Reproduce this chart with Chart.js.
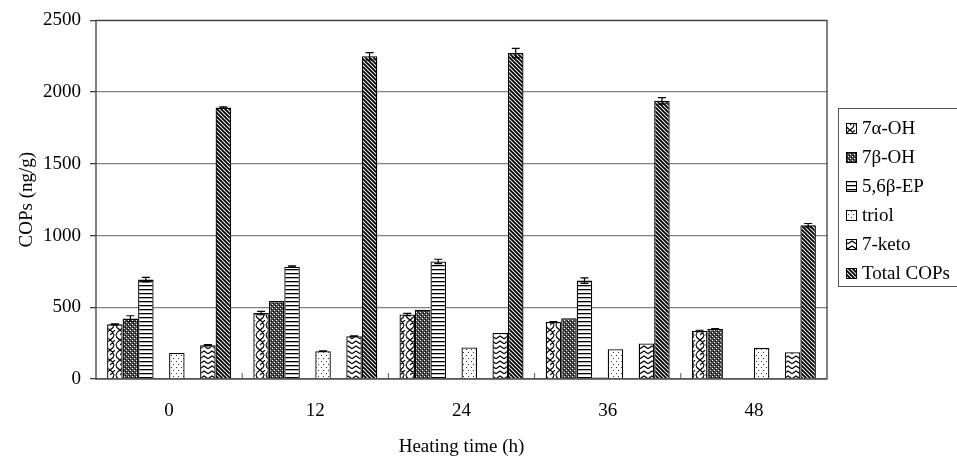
<!DOCTYPE html>
<html>
<head>
<meta charset="utf-8">
<script src="https://cdn.jsdelivr.net/npm/chart.js@4"></script>
<style>
  body { margin: 0; background: #fff; }
  canvas { display: block; }
</style>
</head>
<body>
<canvas id="copsChart" width="957" height="458"></canvas>
<script>
const hours = ['0', '12', '24', '36', '48'];

const alphaOH = [381, 460, 450, 397, 335];
const betaOH = [421, 543, 483, 423, 349];
const ep56b = [693, 783, 820, 686, 0];
const blankA = [0, 0, 0, 10, 0];
const triol = [182, 194, 220, 208, 217];
const blankB = [0, 0, 0, 0, 0];
const keto7 = [236, 298, 321, 247, 187];
const totalCOPs = [1892, 2250, 2273, 1939, 1072];

const alphaErr = [3, 12, 8, 4, 5];
const betaErr = [20, 0, 0, 0, 3];
const epErr = [16, 5, 15, 19, 0];
const triolErr = [0, 2, 0, 0, 0];
const ketoErr = [3, 3, 0, 0, 0];
const totalErr = [5, 26, 32, 22, 12];

const fontName = '"Liberation Serif", "Times New Roman", serif';

function makePattern(w, h, draw) {
    const c = document.createElement('canvas');
    c.width = w;
    c.height = h;
    const g = c.getContext('2d');
    g.fillStyle = '#fff';
    g.fillRect(0, 0, w, h);
    g.strokeStyle = '#000';
    g.fillStyle = '#000';
    draw(g);
    return g.createPattern(c, 'repeat');
}

const ctx = document.getElementById('copsChart').getContext('2d');

// 7a-OH: interlocking curves
const patAlpha = makePattern(10, 10, g => {
    g.lineWidth = 1.1;
    g.beginPath();
    g.moveTo(0, 0); g.quadraticCurveTo(8, 5, 0, 10);
    g.moveTo(10, 0); g.quadraticCurveTo(2, 5, 10, 10);
    g.moveTo(0, 5); g.lineTo(5, 0);
    g.stroke();
});
// 7b-OH: dense dark checker
const patBeta = makePattern(4, 4, g => {
    g.fillStyle = '#4a4a4a';
    g.fillRect(0, 0, 4, 4);
    g.fillStyle = '#fff';
    g.fillRect(0, 0, 1, 1);
    g.fillRect(2, 2, 1, 1);
    g.fillStyle = '#000';
    g.fillRect(1, 3, 1, 1);
    g.fillRect(3, 1, 1, 1);
});
// 5,6b-EP: horizontal lines
const patEP = makePattern(4, 4, g => {
    g.fillRect(0, 1, 4, 1.3);
});
// triol: sparse dots
const patTriol = makePattern(5, 6, g => {
    g.fillStyle = '#333';
    g.fillRect(1, 1, 1, 1);
    g.fillRect(3, 4, 1, 1);
});
// 7-keto: horizontal zigzag
const patKeto = makePattern(8, 5, g => {
    g.lineWidth = 1.2;
    g.beginPath();
    g.moveTo(0, 3.8); g.lineTo(4, 1); g.lineTo(8, 3.8);
    g.stroke();
});
// Total COPs: dense diagonal stripes
const patTotal = makePattern(4, 4, g => {
    g.lineWidth = 1.9;
    g.beginPath();
    g.moveTo(-1, -1); g.lineTo(5, 5);
    g.moveTo(-1, 3); g.lineTo(1, 5);
    g.moveTo(3, -1); g.lineTo(5, 1);
    g.stroke();
});

function barSet(label, values, fill, errs) {
    return {
        label: label,
        data: values,
        errors: errs,
        backgroundColor: fill,
        borderColor: '#000',
        borderWidth: 1.3,
        borderSkipped: 'start'
    };
}

const datasets = [
    barSet('7α-OH', alphaOH, patAlpha, alphaErr),
    barSet('7β-OH', betaOH, patBeta, betaErr),
    barSet('5,6β-EP', ep56b, patEP, epErr),
    barSet('', blankA, '#111', null),
    barSet('triol', triol, patTriol, triolErr),
    barSet('', blankB, '#111', null),
    barSet('7-keto', keto7, patKeto, ketoErr),
    barSet('Total COPs', totalCOPs, patTotal, totalErr)
];

const extrasPlugin = {
    id: 'extras',
    afterDatasetsDraw(chart) {
        const c = chart.ctx;
        const area = chart.chartArea;
        const y = chart.scales.y;
        const x = chart.scales.x;

        // error bars
        c.save();
        c.strokeStyle = '#000';
        c.lineWidth = 1.2;
        chart.data.datasets.forEach((ds, di) => {
            if (!ds.errors) return;
            const meta = chart.getDatasetMeta(di);
            ds.data.forEach((v, i) => {
                const e = ds.errors[i];
                if (!e || !v) return;
                const px = meta.data[i].x;
                const top = y.getPixelForValue(v + e);
                const bot = y.getPixelForValue(v - e);
                c.beginPath();
                c.moveTo(px, top); c.lineTo(px, bot);
                c.moveTo(px - 4, top); c.lineTo(px + 4, top);
                c.moveTo(px - 4, bot); c.lineTo(px + 4, bot);
                c.stroke();
            });
        });

        // inward x ticks between categories
        c.strokeStyle = '#555';
        c.lineWidth = 1;
        for (let i = 1; i < hours.length; i++) {
            const bx = (x.getPixelForValue(i - 1) + x.getPixelForValue(i)) / 2;
            c.beginPath();
            c.moveTo(bx, area.bottom);
            c.lineTo(bx, area.bottom - 6);
            c.stroke();
        }

        // plot frame
        c.strokeStyle = '#404040';
        c.lineWidth = 1.3;
        c.strokeRect(area.left, area.top, area.right - area.left, area.bottom - area.top);
        c.restore();
    },
    afterDraw(chart) {
        const c = chart.ctx;
        const items = chart.data.datasets.filter(ds => ds.label !== '');
        const boxLeft = 838, boxTop = 108, boxBottom = 286;
        c.save();
        c.strokeStyle = '#555';
        c.lineWidth = 1;
        c.strokeRect(boxLeft + 0.5, boxTop + 0.5, 140, boxBottom - boxTop);
        c.font = '19px ' + fontName;
        c.textBaseline = 'middle';
        c.textAlign = 'left';
        items.forEach((ds, i) => {
            const cy = 128 + i * 29;
            c.fillStyle = ds.backgroundColor;
            c.fillRect(846, cy - 5, 10, 10);
            c.strokeStyle = '#000';
            c.strokeRect(846.5, cy - 4.5, 10, 10);
            c.fillStyle = '#000';
            c.fillText(ds.label, 862, cy + 1);
        });
        c.restore();
    }
};

new Chart(ctx, {
    type: 'bar',
    data: {
        labels: hours,
        datasets: datasets
    },
    options: {
        responsive: false,
        animation: false,
        layout: {
            padding: { left: 5, right: 130, top: 12, bottom: 0 }
        },
        datasets: {
            bar: {
                categoryPercentage: 0.848,
                barPercentage: 1
            }
        },
        plugins: {
            legend: { display: false },
            tooltip: { enabled: false }
        },
        scales: {
            x: {
                grid: { display: false, drawTicks: false },
                border: { display: false },
                ticks: {
                    color: '#000',
                    padding: 21,
                    font: { family: fontName, size: 19 }
                },
                title: {
                    display: true,
                    text: 'Heating time (h)',
                    color: '#000',
                    padding: { top: -8.6, bottom: 0 },
                    font: { family: fontName, size: 19 }
                }
            },
            y: {
                min: 0,
                max: 2500,
                grid: {
                    color: '#808080',
                    lineWidth: 1.3,
                    tickColor: '#404040',
                    tickLength: 6
                },
                border: { display: false },
                ticks: {
                    stepSize: 500,
                    color: '#000',
                    padding: 9,
                    font: { family: fontName, size: 19 },
                    callback: v => String(v)
                },
                title: {
                    display: true,
                    text: 'COPs (ng/g)',
                    color: '#000',
                    padding: { top: 10.6, bottom: -4.4 },
                    font: { family: fontName, size: 19 }
                }
            }
        }
    },
    plugins: [extrasPlugin]
});
</script>
</body>
</html>
